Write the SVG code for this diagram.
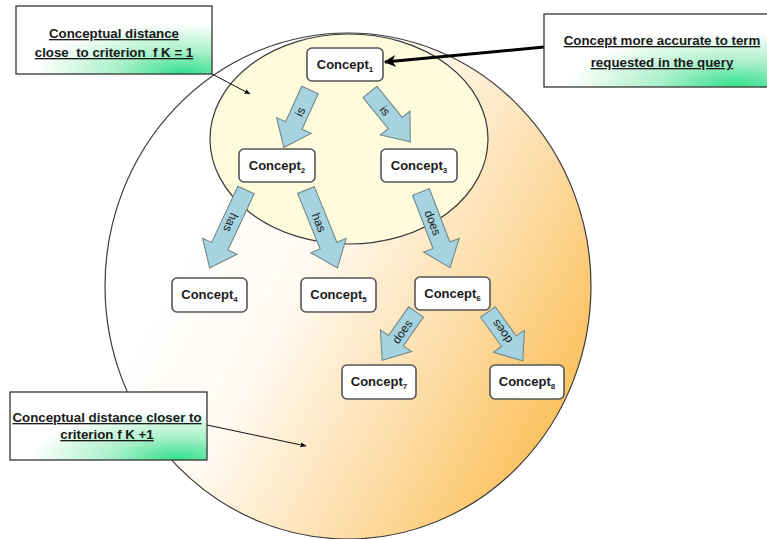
<svg xmlns="http://www.w3.org/2000/svg" width="767" height="539" viewBox="0 0 767 539">
  <defs>
    <linearGradient id="outerFill" x1="0.2" y1="0.3" x2="0.95" y2="0.72">
      <stop offset="0" stop-color="#ffffff"/>
      <stop offset="0.3" stop-color="#fffaf3"/>
      <stop offset="0.65" stop-color="#fde0b0"/>
      <stop offset="1" stop-color="#fbc260"/>
    </linearGradient>
    <radialGradient id="noteFill" cx="0.85" cy="1" r="0.75" fx="0.85" fy="1">
      <stop offset="0" stop-color="#2fe08a"/>
      <stop offset="0.45" stop-color="#a8f0c8"/>
      <stop offset="1" stop-color="#ffffff"/>
    </radialGradient>
    <marker id="pointerHead" viewBox="0 0 10 10" refX="9" refY="5" markerWidth="6" markerHeight="6" orient="auto" markerUnits="userSpaceOnUse">
      <path d="M0,1 L10,5 L0,9 Z" fill="#111"/>
    </marker>
    <marker id="boldHead" viewBox="0 0 10 10" refX="9" refY="5" markerWidth="14" markerHeight="12" orient="auto" markerUnits="userSpaceOnUse">
      <path d="M0,0 L10,5 L0,10 L3,5 Z" fill="#000"/>
    </marker>
  </defs>
  <style>
    .region { stroke: #3a3a3a; stroke-width: 1.2; }
    .concept rect { fill: #ffffff; stroke: #555555; stroke-width: 1.6; }
    .concept text { font-family: "Liberation Sans", Arial, sans-serif; font-weight: bold; font-size: 13px; fill: #1a1a1a; text-anchor: middle; }
    .sub { font-size: 8px; }
    .note rect { fill: url(#noteFill); stroke: #333333; stroke-width: 1.3; }
    .note text { font-family: "Liberation Sans", Arial, sans-serif; font-weight: bold; font-size: 13.3px; fill: #1a1a1a; text-anchor: middle; text-decoration: underline; white-space: pre; }
    .relation polygon { fill: #a6d3df; stroke: #6f8a8a; stroke-width: 1.1; stroke-linejoin: miter; }
    .relation text { font-family: "Liberation Sans", Arial, sans-serif; font-size: 12px; fill: #1a1a1a; text-anchor: middle; }
    .pointer { stroke: #111; stroke-width: 1; fill: none; }
  </style>

  <!-- concentric regions of conceptual distance -->
  <g id="regions">
    <ellipse id="region-k1" class="region" cx="348" cy="286" rx="243" ry="253" fill="url(#outerFill)"/>
    <ellipse id="region-k0" class="region" cx="349" cy="139" rx="139" ry="105" fill="#fefadc"/>
  </g>

  <!-- relation arrows between concepts -->
  <g id="connectors">
    <g class="relation" transform="translate(310,90) rotate(114.5)">
      <polygon points="0,-9 39,-9 39,-19 63,0 39,19 39,9 0,9"/>
      <text transform="translate(24,0) rotate(180)" dy="0.35em">is</text>
    </g>
    <g class="relation" transform="translate(370,92) rotate(51)">
      <polygon points="0,-9 40,-9 40,-19 64,0 40,19 40,9 0,9"/>
      <text x="24" dy="0.35em">is</text>
    </g>
    <g class="relation" transform="translate(246,190) rotate(115)">
      <polygon points="0,-9 62,-9 62,-19 86,0 62,19 62,9 0,9"/>
      <text x="36" dy="0.35em">has</text>
    </g>
    <g class="relation" transform="translate(306,190) rotate(68)">
      <polygon points="0,-9 60,-9 60,-19 84,0 60,19 60,9 0,9"/>
      <text x="35" dy="0.35em">has</text>
    </g>
    <g class="relation" transform="translate(421,192) rotate(69)">
      <polygon points="0,-9 57,-9 57,-19 81,0 57,19 57,9 0,9"/>
      <text x="33" dy="0.35em">does</text>
    </g>
    <g class="relation" transform="translate(416,312) rotate(125)">
      <polygon points="0,-9 35,-9 35,-19 59,0 35,19 35,9 0,9"/>
      <text transform="translate(24,0) rotate(180)" dy="0.35em">does</text>
    </g>
    <g class="relation" transform="translate(488,312) rotate(54.5)">
      <polygon points="0,-9 36,-9 36,-19 60,0 36,19 36,9 0,9"/>
      <text transform="translate(24,0) rotate(180)" dy="0.35em">does</text>
    </g>
    <!-- note pointers -->
    <line class="pointer" x1="212" y1="74" x2="250" y2="94" marker-end="url(#pointerHead)"/>
    <line class="pointer" x1="207" y1="425" x2="306" y2="446" marker-end="url(#pointerHead)"/>
    <line x1="544" y1="47" x2="385" y2="62" stroke="#000" stroke-width="3" marker-end="url(#boldHead)"/>
  </g>

  <!-- concept nodes -->
  <g id="concept1" class="concept">
    <rect x="307" y="48" width="76" height="33" rx="5"/>
    <text x="345" y="69">Concept<tspan class="sub" dy="3">1</tspan></text>
  </g>
  <g id="concept2" class="concept">
    <rect x="239" y="149" width="76" height="33" rx="5"/>
    <text x="277" y="170">Concept<tspan class="sub" dy="3">2</tspan></text>
  </g>
  <g id="concept3" class="concept">
    <rect x="381" y="149" width="76" height="33" rx="5"/>
    <text x="419" y="170">Concept<tspan class="sub" dy="3">3</tspan></text>
  </g>
  <g id="concept4" class="concept">
    <rect x="172" y="278" width="75" height="34" rx="5"/>
    <text x="209.5" y="299">Concept<tspan class="sub" dy="3">4</tspan></text>
  </g>
  <g id="concept5" class="concept">
    <rect x="301" y="278" width="75" height="34" rx="5"/>
    <text x="338.5" y="299">Concept<tspan class="sub" dy="3">5</tspan></text>
  </g>
  <g id="concept6" class="concept">
    <rect x="415" y="277" width="75" height="33" rx="5"/>
    <text x="452.5" y="298">Concept<tspan class="sub" dy="3">6</tspan></text>
  </g>
  <g id="concept7" class="concept">
    <rect x="342" y="365" width="74" height="34" rx="5"/>
    <text x="379" y="386">Concept<tspan class="sub" dy="3">7</tspan></text>
  </g>
  <g id="concept8" class="concept">
    <rect x="490" y="365" width="74" height="34" rx="5"/>
    <text x="527" y="386">Concept<tspan class="sub" dy="3">8</tspan></text>
  </g>

  <!-- explanatory notes -->
  <g id="note-k1" class="note">
    <rect x="16" y="6" width="196" height="68"/>
    <text x="114" y="38">Conceptual distance</text>
    <text x="114" y="57">close  to criterion  f K = 1</text>
  </g>
  <g id="note-accurate" class="note">
    <rect x="544" y="14" width="226" height="73"/>
    <text x="662" y="45">Concept more accurate to term</text>
    <text x="662" y="67">requested in the query</text>
  </g>
  <g id="note-k2" class="note">
    <rect x="10" y="392" width="197" height="68"/>
    <text x="107" y="422">Conceptual distance closer to</text>
    <text x="107" y="439">criterion f K +1</text>
  </g>
</svg>
